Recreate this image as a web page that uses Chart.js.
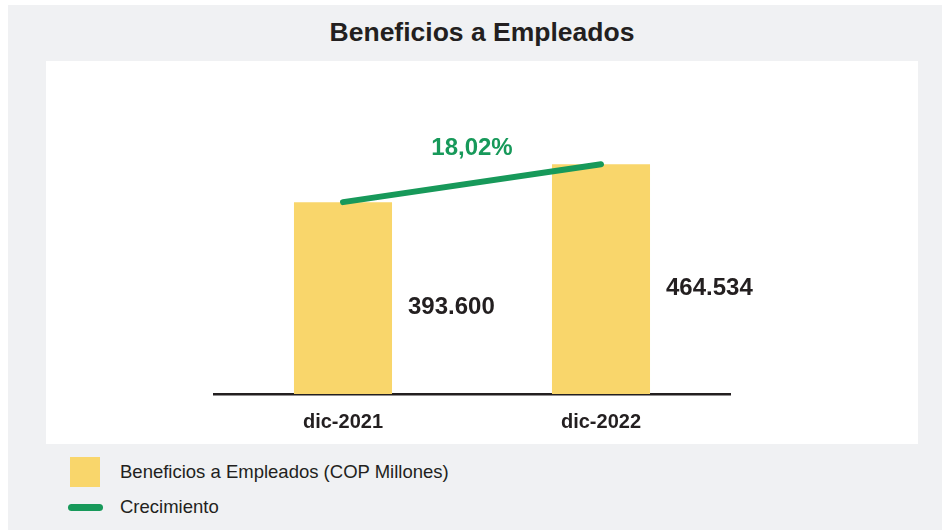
<!DOCTYPE html>
<html lang="es">
<head>
    <meta charset="UTF-8">
    <title>Beneficios a Empleados</title>
    <style>
        body {
            margin: 0;
            background: #ffffff;
            font-family: "Liberation Sans", Arial, sans-serif;
            color: #231f20;
        }
        .frame {
            position: absolute;
            left: 8px;
            top: 5px;
            width: 934px;
            height: 525px;
            background: #f0f1f3;
        }
        .title {
            position: absolute;
            left: 38px;
            width: 872px;
            top: 12px;
            text-align: center;
            font-weight: bold;
            font-size: 26.5px;
        }
        .panel {
            position: absolute;
            left: 38px;
            top: 56px;
            width: 872px;
            height: 383px;
            background: #ffffff;
        }
        .legend-item {
            position: absolute;
            left: 60px;
            font-size: 18.5px;
            display: flex;
            align-items: center;
        }
        .swatch-bar {
            width: 30px;
            height: 30px;
            background: #f9d66b;
            margin-left: 2px;
            margin-right: 20px;
        }
        .swatch-line {
            width: 35px;
            height: 7px;
            border-radius: 4px;
            background: #17995a;
            margin-right: 17px;
        }
    </style>
    <script src="https://cdn.jsdelivr.net/npm/chart.js"></script>
</head>
<body>
    <div class="frame">
        <div class="title">Beneficios a Empleados</div>
        <div class="panel">
            <canvas id="myChart" width="872" height="383"></canvas>
        </div>
        <div class="legend-item" style="top:452px;">
            <div class="swatch-bar"></div><span id="leg0"></span>
        </div>
        <div class="legend-item" style="top:491px;">
            <div class="swatch-line"></div><span id="leg1"></span>
        </div>
    </div>

    <script>
        // datos
        const categories = ['dic-2021', 'dic-2022'];
        const beneficios = [393600, 464534];
        const seriesNames = ['Beneficios a Empleados (COP Millones)', 'Crecimiento'];

        document.getElementById('leg0').textContent = seriesNames[0];
        document.getElementById('leg1').textContent = seriesNames[1];

        function fmtMiles(v) {
            return String(Math.round(v)).replace(/\B(?=(\d{3})+(?!\d))/g, '.');
        }

        const growth = (beneficios[1] / beneficios[0] - 1) * 100;
        const growthText = growth.toFixed(2).replace('.', ',') + '%';

        const labelsPlugin = {
            id: 'labels',
            afterDatasetsDraw(chart) {
                const ctx = chart.ctx;
                ctx.save();
                // valores junto a las barras
                const barMeta = chart.getDatasetMeta(1);
                ctx.font = 'bold 24px "Liberation Sans", Arial, sans-serif';
                ctx.fillStyle = '#231f20';
                ctx.textAlign = 'left';
                ctx.textBaseline = 'middle';
                barMeta.data.forEach((el, i) => {
                    ctx.fillText(fmtMiles(beneficios[i]), el.x + el.width / 2 + 16, (el.y + el.base) / 2);
                });
                // etiqueta de crecimiento
                const pts = chart.getDatasetMeta(0).data;
                const mx = (pts[0].x + pts[1].x) / 2;
                const my = (pts[0].y + pts[1].y) / 2;
                ctx.fillStyle = '#17995a';
                ctx.textAlign = 'center';
                ctx.fillText(growthText, mx, my - 35);
                ctx.restore();
            }
        };

        const ctx = document.getElementById('myChart').getContext('2d');
        new Chart(ctx, {
            data: {
                labels: categories,
                datasets: [{
                    type: 'line',
                    label: seriesNames[1],
                    data: beneficios,
                    borderColor: '#17995a',
                    borderWidth: 6,
                    borderCapStyle: 'round',
                    pointRadius: 0,
                    fill: false,
                    order: 0
                }, {
                    type: 'bar',
                    label: seriesNames[0],
                    data: beneficios,
                    backgroundColor: '#f9d66b',
                    barPercentage: 0.38,
                    categoryPercentage: 1,
                    order: 1
                }]
            },
            options: {
                responsive: false,
                animation: false,
                layout: {
                    padding: { left: 168, right: 188, top: 20, bottom: 0 }
                },
                plugins: {
                    legend: { display: false },
                    tooltip: { enabled: false },
                    title: { display: false }
                },
                scales: {
                    x: {
                        grid: { display: false },
                        border: { display: true, color: '#231f20', width: 2.5 },
                        afterFit(scale) { scale.height = 50; },
                        ticks: {
                            color: '#231f20',
                            padding: 8,
                            font: { family: '"Liberation Sans", Arial, sans-serif', size: 20, weight: 'bold' }
                        }
                    },
                    y: {
                        display: false,
                        min: 35000,
                        max: 620000
                    }
                }
            },
            plugins: [labelsPlugin]
        });
    </script>
</body>
</html>
